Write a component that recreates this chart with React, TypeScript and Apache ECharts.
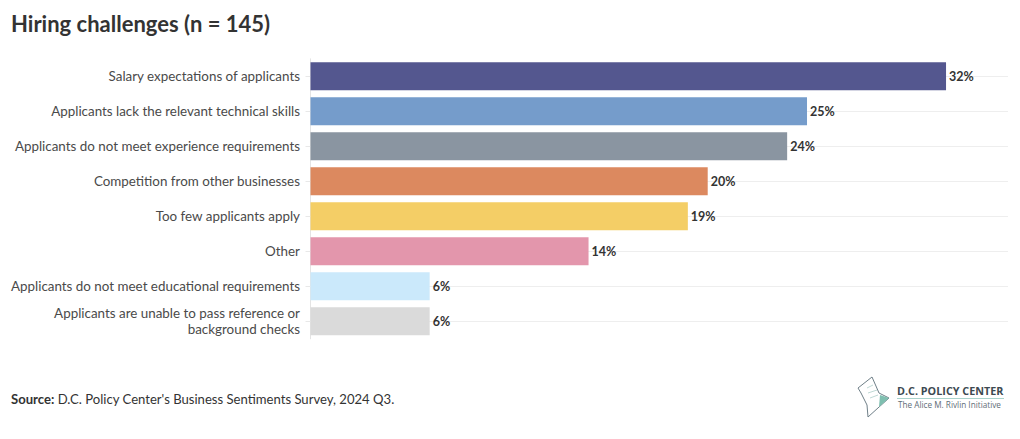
import React, { useEffect, useRef } from "react";
import * as echarts from "echarts";

const categories = [
  "Salary expectations of applicants",
  "Applicants lack the relevant technical skills",
  "Applicants do not meet experience requirements",
  "Competition from other businesses",
  "Too few applicants apply",
  "Other",
  "Applicants do not meet educational requirements",
  "Applicants are unable to pass reference or\nbackground checks",
];
const values = [32, 25, 24, 20, 19, 14, 6, 6];
const colors = ["#54578F", "#759CCB", "#8A95A1", "#DC895F", "#F4CE66", "#E396AC", "#CBE9FB", "#DADADA"];
const titleText = "Hiring challenges (n = 145)";
const FONT = "Lato";

const logoPath = "M 0 11 L 14 0 L 21 16 L 31 21 L 10 40 L 9 28 L 3 16 Z";

export default function App() {
  const ref = useRef<HTMLDivElement>(null);
  useEffect(() => {
    echarts.graphic.registerShape("dcLogo", echarts.graphic.extendPath(logoPath, {}) as any);
    const chart = echarts.init(ref.current!, null, { renderer: "svg" });
    chart.setOption({
      animation: false,
      backgroundColor: "#fff",
      textStyle: { fontFamily: FONT },
      title: {
        text: titleText,
        left: 6,
        top: 7,
        padding: [5, 5],
        textStyle: { fontFamily: FONT, fontSize: 22, fontWeight: 700, color: "#333333" },
      },
      grid: { left: 310.5, right: 12, top: 58.8, height: 280 },
      xAxis: { type: "value", min: 0, max: 35.12, show: false, splitLine: { show: false } },
      yAxis: {
        type: "category",
        data: categories.map((c) =>
          c.includes("\n") ? { value: c, textStyle: { padding: [0, 0, 3, 0] } } : c
        ),
        inverse: true,
        axisLine: { show: true, lineStyle: { color: "#E4E4E4", width: 1 } },
        axisTick: { show: true, alignWithLabel: true, length: 5, lineStyle: { color: "#E8E8E8" } },
        axisLabel: { fontFamily: FONT, fontSize: 13.4, color: "#4A4A4A", margin: 10.5, lineHeight: 16, align: "right" },
      },
      series: [
        {
          type: "bar",
          data: values.map((v, i) => ({ value: v, itemStyle: { color: colors[i] } })),
          barWidth: 28,
          z: 3,
          label: {
            show: true,
            position: "right",
            distance: 3,
            formatter: "{c}%",
            fontFamily: FONT,
            fontSize: 12.5,
            fontWeight: 700,
            color: "#333333",
          },
          markLine: {
            silent: true,
            symbol: "none",
            z: 1,
            label: { show: false },
            lineStyle: { color: "#EEEEEE", width: 1, type: "solid" },
            data: categories.map((c) => [
              { xAxis: 0, yAxis: c },
              { xAxis: 35.12, yAxis: c },
            ]),
          },
        },
      ],
      graphic: [
        {
          type: "text",
          left: 11,
          top: 392,
          style: {
            text: "{b|Source:} D.C. Policy Center's Business Sentiments Survey, 2024 Q3.",
            fontFamily: FONT,
            fontSize: 13.1,
            fill: "#333333",
            rich: { b: { fontFamily: FONT, fontSize: 13.1, fontWeight: 700, fill: "#333333" } },
          },
        },
        {
          type: "dcLogo",
          x: 858,
          y: 377,
          style: { fill: "#fff", stroke: "#6F7F88", lineWidth: 1 },
        },
        { type: "polygon", shape: { points: [[880, 395], [889, 398], [879, 407]] }, style: { fill: "#7FBFB0" } },
        { type: "line", shape: { x1: 867, y1: 388, x2: 873, y2: 385 }, style: { stroke: "#BFD9D5", lineWidth: 1 } },
        { type: "line", shape: { x1: 868, y1: 393, x2: 877, y2: 390 }, style: { stroke: "#BFD9D5", lineWidth: 1 } },
        { type: "line", shape: { x1: 870, y1: 398, x2: 878, y2: 395 }, style: { stroke: "#BFD9D5", lineWidth: 1 } },
        {
          type: "text",
          x: 897,
          y: 385,
          style: { text: "D.C. POLICY CENTER", fontFamily: "Open Sans", fontSize: 10.8, fontWeight: 700, fill: "#3D4A52" },
        },
        { type: "line", shape: { x1: 897, y1: 398.5, x2: 1004, y2: 398.5 }, style: { stroke: "#A9D3CC", lineWidth: 1 } },
        {
          type: "text",
          x: 898,
          y: 400,
          style: { text: "The Alice M. Rivlin Initiative", fontFamily: "Open Sans", fontSize: 8.2, fill: "#5F6E78" },
        },
      ],
    });
    return () => chart.dispose();
  }, []);
  return <div ref={ref} style={{ position: "absolute", left: 0, top: 0, width: 1020, height: 439 }} />;
}
